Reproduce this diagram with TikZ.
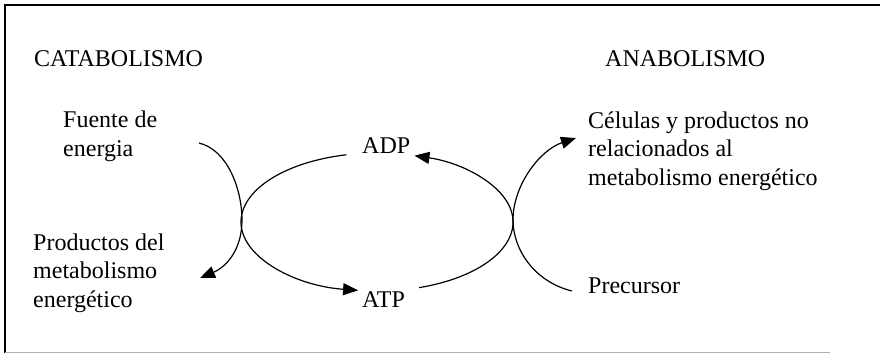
\documentclass[tikz,border=0pt]{standalone}
\usepackage{fontspec}
\setmainfont{Liberation Serif}
\usetikzlibrary{arrows.meta,calc}
\begin{document}
\begin{tikzpicture}[x=1pt,y=-1pt,
  lbl/.style={inner sep=0pt,anchor=base west,align=left,
    font=\fontsize{24}{28.5}\selectfont},
  flow/.style={line width=1.2pt},
  tip/.style={-{Triangle[length=15pt,width=12pt]}}]
\useasboundingbox (0,0) rectangle (880,354);
% frame
\draw[line width=1.4pt] (5,353) -- (5,5) -- (880,5);
\draw[line width=1pt,black!30] (5,352) -- (830,352);
% headings
\node[lbl] (cat) at (34,66) {CATABOLISMO};
\node[lbl] (ana) at (605,66) {ANABOLISMO};
% catabolic side (anchored at the baseline of the last line)
\node[lbl] (fuente) at (63,156) {Fuente de\\energia};
\node[lbl] (prod) at (33,307) {Productos del\\metabolismo\\energético};
% anabolic side
\node[lbl] (cel) at (588,185) {Células y productos no\\relacionados al\\metabolismo energético};
\node[lbl] (prec) at (588,293) {Precursor};
% energy carriers
\node[lbl] (adp) at (362,153) {ADP};
\node[lbl] (atp) at (362,307) {ATP};
% cycle geometry
\coordinate (cyc) at (377,222);
\coordinate (kL) at (242,220);
\coordinate (kR) at (513,220);
\coordinate (fEnd) at (199,143);
\coordinate (pEnd) at (200,278);
\coordinate (precEnd) at (572,291);
\coordinate (celEnd) at (576,138);
% ADP -> ATP around the left
\draw[flow,tip] ($(cyc)+(257:136 and 69)$) arc[start angle=257,end angle=98,x radius=136,y radius=69];
% ATP -> ADP around the right
\draw[flow,tip] ($(cyc)+(72:136 and 69)$) arc[start angle=72,end angle=-74,x radius=136,y radius=69];
% energy source to products
\draw[flow,tip] (fEnd) .. controls (228,150) and (242,190) .. (kL)
  .. controls (242,250) and (226,267) .. (pEnd);
% precursor to cell material
\draw[flow,tip] (precEnd) .. controls (535,282) and (513,250) .. (kR)
  .. controls (513,185) and (540,150) .. (celEnd);
\end{tikzpicture}
\end{document}
